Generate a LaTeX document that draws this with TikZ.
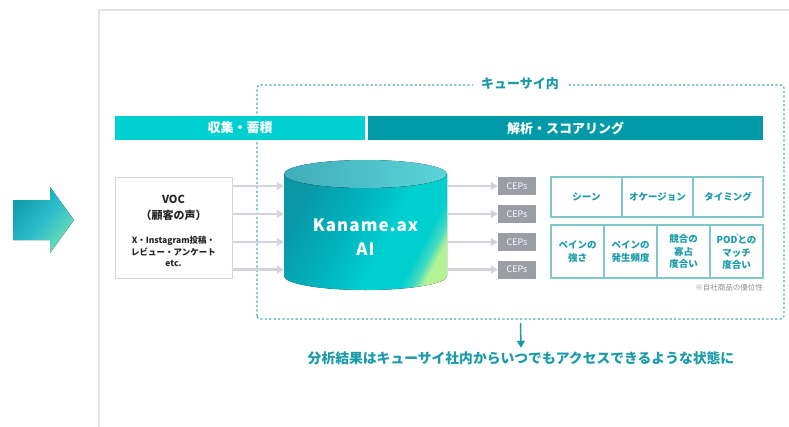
\documentclass[tikz,border=0pt]{standalone}
\usepackage{fontspec}
\setmainfont{Noto Sans CJK JP}
\newfontfamily\kfont[LetterSpace=6]{Noto Sans CJK JP}
\usetikzlibrary{arrows.meta}
\definecolor{tealtxt}{HTML}{1A9BAA}
\definecolor{barA}{HTML}{00D0D2}
\definecolor{barB}{HTML}{009AA8}
\definecolor{frameg}{HTML}{E3E3E8}
\definecolor{arrg}{HTML}{D3D4DB}
\definecolor{cepg}{HTML}{9A9CA6}
\definecolor{tblb}{HTML}{80C8CE}
\definecolor{dashc}{HTML}{4AAEB8}
\definecolor{ca}{HTML}{0E9EAC}
\definecolor{cb}{HTML}{2CBCCA}
\definecolor{cc}{HTML}{70E0B4}
\definecolor{cyA}{HTML}{0A97A6}
\definecolor{cyB}{HTML}{00B4BE}
\definecolor{cyC}{HTML}{00CFD0}
\definecolor{cyD}{HTML}{40DAC0}
\definecolor{cyE}{HTML}{B4F294}
\definecolor{topA}{HTML}{40ADBA}
\definecolor{topB}{HTML}{5AD4D8}
\pgfdeclarehorizontalshading{arrsh}{100bp}{color(0bp)=(ca); color(25bp)=(ca); color(50bp)=(cb); color(75bp)=(cc); color(100bp)=(cc)}
\pgfdeclarehorizontalshading{cylsh}{100bp}{color(0bp)=(cyA); color(25bp)=(cyA); color(44bp)=(cyB); color(58bp)=(cyC); color(69bp)=(cyC); color(73bp)=(cyD); color(76bp)=(cyE); color(100bp)=(cyE)}
\tikzset{
  conn/.style={draw=arrg, line width=2.5pt, -{Triangle[length=7pt,width=8pt]}},
  cepbox/.style={fill=cepg, text=white, minimum width=38pt, minimum height=18pt, inner sep=0pt, font=\fontsize{9}{10}\selectfont},
  cell/.style={draw=tblb, line width=1.1pt, text=tealtxt, inner sep=0pt, align=center, font=\bfseries\fontsize{9.5}{12.5}\selectfont},
  bar/.style={text=white, inner sep=0pt, minimum height=24pt, font=\bfseries\fontsize{13}{14}\selectfont},
}
\begin{document}
\begin{tikzpicture}[x=1pt,y=-1pt]
\useasboundingbox (0,0) rectangle (789,426);
\clip (0,0) rectangle (789,426);
% outer frame
\draw[frameg, line width=2pt] (99,440) -- (99,9.5) -- (800,9.5);
% left arrow
\fill[shading=arrsh, shading angle=-40] (13,200) -- (50,200) -- (50,187) -- (74,220) -- (50,253) -- (50,240) -- (13,240) -- cycle;
% dashed region
\draw[dashc, line width=1.2pt, dash pattern=on 2.2pt off 2.2pt, rounded corners=3pt] (257,319) -- (257,85) -- (784,85) -- (784,319) -- cycle;
\node[fill=white, text=tealtxt, font=\bfseries\fontsize{13}{14}\selectfont, inner xsep=8pt] (inner) at (520,84) {キューサイ内};
% bars
\node[bar, fill=barA, minimum width=250pt] (bar1) at (240,128) {収集・蓄積};
\node[bar, fill=barB, minimum width=395pt] (bar2) at (565.5,128) {解析・スコアリング};
% VOC box
\node[draw=arrg, line width=1pt, fill=white, minimum width=117pt, minimum height=101pt, inner sep=0pt] (voc) at (173.5,227.5) {};
\node[text=black!85, font=\bfseries\fontsize{11}{16}\selectfont, align=center] (vt1) at (173.5,208) {VOC\\（顧客の声）};
\node[text=black!85, font=\bfseries\fontsize{8.5}{11.5}\selectfont, align=center] (vt2) at (173.5,251.5) {X・Instagram投稿・\\レビュー・アンケート\\etc.};
% cylinder
\fill[shading=cylsh, shading angle=-28] (284,174) -- (284,276) arc[start angle=180, end angle=0, x radius=81.5, y radius=14] -- (447,174) arc[start angle=0, end angle=180, x radius=81.5, y radius=14] -- cycle;
\fill[left color=topA, right color=topB] (365.5,174) ellipse[x radius=81.5, y radius=14];
\node[minimum width=163pt, minimum height=102pt, inner sep=0pt] (cyl) at (365.5,225) {};
\node[text=white, font=\kfont\bfseries\fontsize{17}{24}\selectfont, align=center] (kname) at (365.5,237) {Kaname.ax\\AI};
% CEPs
\node[cepbox] (cep1) at (517,186) {CEPs};
\node[cepbox] (cep2) at (517,214) {CEPs};
\node[cepbox] (cep3) at (517,242) {CEPs};
\node[cepbox] (cep4) at (517,269.5) {CEPs};
\foreach \i in {1,...,4}{
  \draw[conn] (voc.east |- cep\i) -- (cyl.west |- cep\i);
  \draw[conn] (cyl.east |- cep\i) -- (cep\i.west);
}
% table
\node[cell, minimum width=71pt, minimum height=40pt] (t1) at (586.5,197) {シーン};
\node[cell, minimum width=71pt, minimum height=40pt] (t2) at (657.5,197) {オケージョン};
\node[cell, minimum width=70pt, minimum height=40pt] (t3) at (728,197) {タイミング};
\node[cell, minimum width=53pt, minimum height=53pt] (b1) at (577.5,251.5) {ペインの\\強さ};
\node[cell, minimum width=53pt, minimum height=53pt] (b2) at (630.5,251.5) {ペインの\\発生頻度};
\node[cell, minimum width=53pt, minimum height=53pt] (b3) at (683.5,251.5) {競合の\\寡占\\度合い};
\node[cell, minimum width=53pt, minimum height=53pt] (b4) at (736.5,251.5) {POD\makebox[0pt]{\raisebox{7.5pt}{\fontsize{4.5}{5}\selectfont ※}}との\\マッチ\\度合い};
\node[anchor=east, text=black!45, font=\fontsize{7.5}{9}\selectfont, inner sep=0pt] (note) at (763,288) {※自社商品の優位性};
% result
\coordinate (dbot) at (520.5,323);
\node[text=tealtxt, font=\bfseries\fontsize{13.8}{15}\selectfont] (result) at (521,358) {分析結果はキューサイ社内からいつでもアクセスできるような状態に};
\draw[tealtxt, line width=1.5pt, -{Triangle[length=7pt,width=8pt]}] (dbot) -- (result.north);
\end{tikzpicture}
\end{document}
